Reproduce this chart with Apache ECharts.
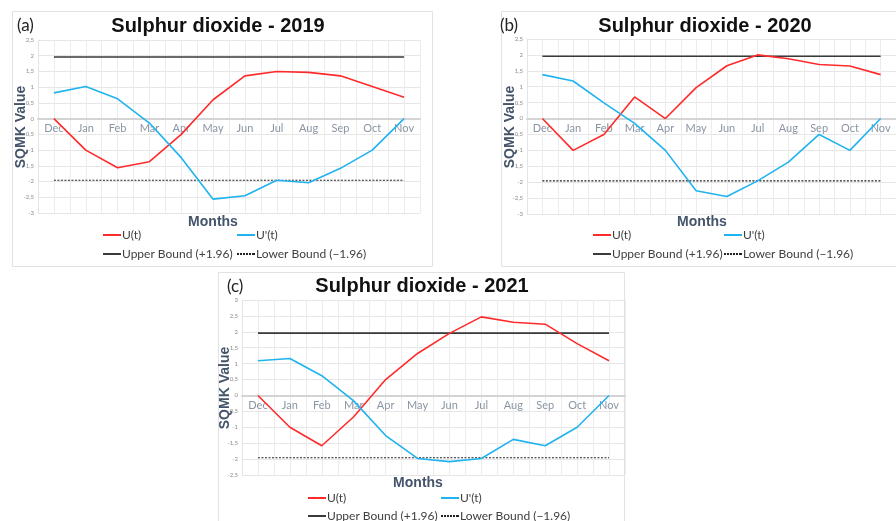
<!DOCTYPE html>
<html>
<head>
<meta charset="utf-8">
<script src="https://cdn.jsdelivr.net/npm/echarts@6/dist/echarts.min.js"></script>
<style>
  html, body { margin: 0; padding: 0; background: #ffffff; }
  #chart { width: 896px; height: 521px; }
</style>
</head>
<body>
<div id="chart"></div>
<script>
// Monthly sequential Mann-Kendall statistics for sulphur dioxide
const months = ['Dec', 'Jan', 'Feb', 'Mar', 'Apr', 'May', 'Jun', 'Jul', 'Aug', 'Sep', 'Oct', 'Nov'];

const u2019      = [0, -1.0, -1.56, -1.37, -0.5, 0.6, 1.36, 1.5, 1.47, 1.36, 1.02, 0.68];
const uPrime2019 = [0.82, 1.02, 0.63, -0.14, -1.24, -2.56, -2.45, -1.96, -2.04, -1.58, -1.0, 0];

const u2020      = [0, -1.0, -0.5, 0.68, 0, 0.97, 1.66, 2.0, 1.88, 1.7, 1.65, 1.38];
const uPrime2020 = [1.38, 1.18, 0.49, -0.15, -1.0, -2.27, -2.45, -1.96, -1.37, -0.5, -1.0, 0];

const u2021      = [0, -1.0, -1.58, -0.67, 0.5, 1.32, 1.95, 2.47, 2.3, 2.24, 1.63, 1.09];
const uPrime2021 = [1.09, 1.16, 0.62, -0.17, -1.26, -1.98, -2.08, -1.98, -1.38, -1.58, -1.0, 0];

const upperBound = 1.96;
const lowerBound = -1.96;

const yRange2019 = [-3, 2.5];
const yRange2020 = [-3, 2.5];
const yRange2021 = [-2.5, 3];

const RED = '#ff2b2b';
const BLUE = '#1fb3ef';
const UPPER_COLOR = '#3a3a3a';
const LOWER_COLOR = '#222222';
const AXIS_TEXT = '#44546a';
const FONT = 'Lato, "Liberation Sans", sans-serif';

// legend glyphs: a thin solid bar and a dashed bar
const SOLID_ICON = 'path://M0,0H18V2H0Z';
const DASH_ICON = 'path://M0,0H2V2H0Z M3,0H5V2H3Z M6,0H8V2H6Z M9,0H11V2H9Z M12,0H14V2H12Z M15,0H18V2H15Z';

const panels = [
  { tag: '(a)', title: 'Sulphur dioxide - 2019', u: u2019, up: uPrime2019, yr: yRange2019,
    grid: { left: 38, top: 40, width: 382, height: 173 },
    box: [12.5, 11.5, 420, 255],
    tagPos: [17, 26], titlePos: [218, 26], monthsPos: [213, 222], sqmkPos: [21, 127],
    leg1: [103, 229], leg2: [237, 229], leg3: [103, 248], leg4: [237, 248] },
  { tag: '(b)', title: 'Sulphur dioxide - 2020', u: u2020, up: uPrime2020, yr: yRange2020,
    grid: { left: 527, top: 39, width: 382, height: 175 },
    box: [501.5, 11.5, 420, 255],
    tagPos: [500, 26], titlePos: [705, 26], monthsPos: [702, 222], sqmkPos: [510, 127],
    leg1: [593, 229], leg2: [724, 229], leg3: [593, 248], leg4: [724, 248] },
  { tag: '(c)', title: 'Sulphur dioxide - 2021', u: u2021, up: uPrime2021, yr: yRange2021,
    grid: { left: 242, top: 300, width: 383, height: 175 },
    box: [218.5, 272.5, 406, 260],
    tagPos: [227, 287], titlePos: [422, 286], monthsPos: [418, 483], sqmkPos: [225, 388],
    leg1: [308, 492], leg2: [441, 492], leg3: [308, 510], leg4: [441, 510] }
];

const fmt = v => String(v).replace('.', ',');

const grid = [], xAxis = [], yAxis = [], series = [], legend = [], graphic = [];

panels.forEach((p, i) => {
  grid.push(Object.assign({ containLabel: false, show: false }, p.grid));

  // category axis lifted to the zero level of the value axis
  const zeroLift = p.grid.height * (0 - p.yr[0]) / (p.yr[1] - p.yr[0]);
  xAxis.push({
    type: 'category', gridIndex: i, data: months, boundaryGap: true,
    position: 'bottom', offset: -zeroLift,
    axisLine: { onZero: false, lineStyle: { color: '#d4d4d4', width: 2 } },
    axisTick: { show: false },
    axisLabel: { color: '#8a95a5', fontSize: 11, fontFamily: FONT, margin: 4, interval: 0 },
    splitLine: { show: false },
    z: 3
  });
  // half-category vertical grid lines
  xAxis.push({
    type: 'value', gridIndex: i, min: 0, max: 24, interval: 1,
    axisLine: { show: false, onZero: false }, axisTick: { show: false }, axisLabel: { show: false },
    splitLine: { show: true, lineStyle: { color: '#ececec', width: 1 } }
  });

  yAxis.push({
    type: 'value', gridIndex: i, min: p.yr[0], max: p.yr[1], interval: 0.5,
    axisLine: { show: true, onZero: false, lineStyle: { color: '#e4e4e4', width: 1 } },
    axisTick: { show: false },
    axisLabel: { color: '#8c8c8c', fontSize: 6, fontFamily: FONT, margin: 4, formatter: fmt },
    splitLine: { show: true, lineStyle: { color: '#e6e6e6', width: 1 } }
  });

  const xi = i * 2;
  const base = { type: 'line', xAxisIndex: xi, yAxisIndex: i, symbol: 'none', silent: true, animation: false };
  series.push(Object.assign({}, base, { name: 'Upper Bound (+1.96)', data: months.map(() => upperBound),
    lineStyle: { color: UPPER_COLOR, width: 1.6 }, itemStyle: { color: UPPER_COLOR }, z: 2 }));
  series.push(Object.assign({}, base, { name: 'Lower Bound (\u22121.96)', data: months.map(() => lowerBound),
    lineStyle: { color: LOWER_COLOR, width: 1.1, type: [2, 1.5] }, itemStyle: { color: LOWER_COLOR }, z: 2 }));
  series.push(Object.assign({}, base, { name: 'U(t)', data: p.u,
    lineStyle: { color: RED, width: 1.6 }, itemStyle: { color: RED }, z: 4 }));
  series.push(Object.assign({}, base, { name: "U'(t)", data: p.up,
    lineStyle: { color: BLUE, width: 1.6 }, itemStyle: { color: BLUE }, z: 4 }));

  const legItem = (name, icon, pos) => ({
    data: [{ name: name, icon: icon }], left: pos[0], top: pos[1], orient: 'horizontal',
    itemWidth: 18, itemHeight: 2, itemGap: 2, padding: 0, selectedMode: false,
    textStyle: { color: '#404040', fontSize: 12, fontFamily: FONT, padding: [0, 0, 0, -4] }
  });
  legend.push(legItem('U(t)', SOLID_ICON, p.leg1));
  legend.push(legItem("U'(t)", SOLID_ICON, p.leg2));
  legend.push(legItem('Upper Bound (+1.96)', SOLID_ICON, p.leg3));
  legend.push(legItem('Lower Bound (\u22121.96)', DASH_ICON, p.leg4));

  graphic.push({ type: 'rect', shape: { x: p.box[0], y: p.box[1], width: p.box[2], height: p.box[3] },
    style: { fill: 'none', stroke: '#e2e2e2', lineWidth: 1 }, z: -10, silent: true });
  graphic.push({ type: 'text', x: p.tagPos[0], y: p.tagPos[1],
    style: { text: p.tag, fill: '#222', font: '17px ' + FONT, textVerticalAlign: 'middle' } });
  graphic.push({ type: 'text', x: p.titlePos[0], y: p.titlePos[1],
    style: { text: p.title, fill: '#111', font: 'bold 20px "Liberation Sans", Arial, sans-serif',
      textAlign: 'center', textVerticalAlign: 'middle' } });
  graphic.push({ type: 'text', x: p.monthsPos[0], y: p.monthsPos[1],
    style: { text: 'Months', fill: AXIS_TEXT, font: 'bold 14px "Liberation Sans", Arial, sans-serif',
      textAlign: 'center', textVerticalAlign: 'middle' } });
  graphic.push({ type: 'text', x: p.sqmkPos[0], y: p.sqmkPos[1], rotation: Math.PI / 2,
    style: { text: 'SQMK Value', fill: AXIS_TEXT, font: 'bold 14px "Liberation Sans", Arial, sans-serif',
      textAlign: 'center', textVerticalAlign: 'middle' } });
});

const chart = echarts.init(document.getElementById('chart'), null, { renderer: 'canvas' });
chart.setOption({
  backgroundColor: '#ffffff',
  animation: false,
  grid, xAxis, yAxis, series, legend, graphic
});
</script>
</body>
</html>
